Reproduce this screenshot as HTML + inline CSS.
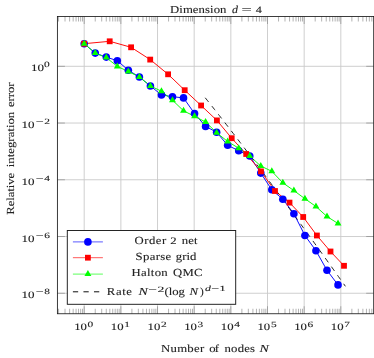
<!DOCTYPE html>
<html><head><meta charset="utf-8"><title>Dimension d = 4</title>
<style>html,body{margin:0;padding:0;background:#fff;width:374px;height:358px;overflow:hidden;font-family:"Liberation Serif",serif}</style>
</head><body>
<svg width="374" height="358" viewBox="0 0 374 358" style="display:block;position:absolute;left:0;top:0;will-change:transform">
<rect x="0" y="0" width="374" height="358" fill="#fff"/>
<path d="M84.20 16.5V313.75M120.86 16.5V313.75M157.52 16.5V313.75M194.18 16.5V313.75M230.84 16.5V313.75M267.50 16.5V313.75M304.16 16.5V313.75M340.82 16.5V313.75M57.4 66.30H373.7M57.4 123.04H373.7M57.4 179.78H373.7M57.4 236.52H373.7M57.4 293.26H373.7" stroke="#c9c9c9" stroke-width="0.9" fill="none"/>
<path d="M58.58 16.5v5M58.58 313.75v-5M65.03 16.5v5M65.03 313.75v-5M69.61 16.5v5M69.61 313.75v-5M73.16 16.5v5M73.16 313.75v-5M76.07 16.5v5M76.07 313.75v-5M78.52 16.5v5M78.52 313.75v-5M80.65 16.5v5M80.65 313.75v-5M82.52 16.5v5M82.52 313.75v-5M95.24 16.5v5M95.24 313.75v-5M101.69 16.5v5M101.69 313.75v-5M106.27 16.5v5M106.27 313.75v-5M109.82 16.5v5M109.82 313.75v-5M112.73 16.5v5M112.73 313.75v-5M115.18 16.5v5M115.18 313.75v-5M117.31 16.5v5M117.31 313.75v-5M119.18 16.5v5M119.18 313.75v-5M131.90 16.5v5M131.90 313.75v-5M138.35 16.5v5M138.35 313.75v-5M142.93 16.5v5M142.93 313.75v-5M146.48 16.5v5M146.48 313.75v-5M149.39 16.5v5M149.39 313.75v-5M151.84 16.5v5M151.84 313.75v-5M153.97 16.5v5M153.97 313.75v-5M155.84 16.5v5M155.84 313.75v-5M168.56 16.5v5M168.56 313.75v-5M175.01 16.5v5M175.01 313.75v-5M179.59 16.5v5M179.59 313.75v-5M183.14 16.5v5M183.14 313.75v-5M186.05 16.5v5M186.05 313.75v-5M188.50 16.5v5M188.50 313.75v-5M190.63 16.5v5M190.63 313.75v-5M192.50 16.5v5M192.50 313.75v-5M205.22 16.5v5M205.22 313.75v-5M211.67 16.5v5M211.67 313.75v-5M216.25 16.5v5M216.25 313.75v-5M219.80 16.5v5M219.80 313.75v-5M222.71 16.5v5M222.71 313.75v-5M225.16 16.5v5M225.16 313.75v-5M227.29 16.5v5M227.29 313.75v-5M229.16 16.5v5M229.16 313.75v-5M241.88 16.5v5M241.88 313.75v-5M248.33 16.5v5M248.33 313.75v-5M252.91 16.5v5M252.91 313.75v-5M256.46 16.5v5M256.46 313.75v-5M259.37 16.5v5M259.37 313.75v-5M261.82 16.5v5M261.82 313.75v-5M263.95 16.5v5M263.95 313.75v-5M265.82 16.5v5M265.82 313.75v-5M278.54 16.5v5M278.54 313.75v-5M284.99 16.5v5M284.99 313.75v-5M289.57 16.5v5M289.57 313.75v-5M293.12 16.5v5M293.12 313.75v-5M296.03 16.5v5M296.03 313.75v-5M298.48 16.5v5M298.48 313.75v-5M300.61 16.5v5M300.61 313.75v-5M302.48 16.5v5M302.48 313.75v-5M315.20 16.5v5M315.20 313.75v-5M321.65 16.5v5M321.65 313.75v-5M326.23 16.5v5M326.23 313.75v-5M329.78 16.5v5M329.78 313.75v-5M332.69 16.5v5M332.69 313.75v-5M335.14 16.5v5M335.14 313.75v-5M337.27 16.5v5M337.27 313.75v-5M339.14 16.5v5M339.14 313.75v-5M351.86 16.5v5M351.86 313.75v-5M358.31 16.5v5M358.31 313.75v-5M362.89 16.5v5M362.89 313.75v-5M366.44 16.5v5M366.44 313.75v-5M369.35 16.5v5M369.35 313.75v-5M371.80 16.5v5M371.80 313.75v-5" stroke="#808080" stroke-width="0.6" fill="none"/>
<path d="M84.20 16.5v7.5M84.20 313.75v-7.5M120.86 16.5v7.5M120.86 313.75v-7.5M157.52 16.5v7.5M157.52 313.75v-7.5M194.18 16.5v7.5M194.18 313.75v-7.5M230.84 16.5v7.5M230.84 313.75v-7.5M267.50 16.5v7.5M267.50 313.75v-7.5M304.16 16.5v7.5M304.16 313.75v-7.5M340.82 16.5v7.5M340.82 313.75v-7.5M57.4 66.30h7.5M373.7 66.30h-7.5M57.4 123.04h7.5M373.7 123.04h-7.5M57.4 179.78h7.5M373.7 179.78h-7.5M57.4 236.52h7.5M373.7 236.52h-7.5M57.4 293.26h7.5M373.7 293.26h-7.5" stroke="#808080" stroke-width="0.6" fill="none"/>
<clipPath id="c"><rect x="57.4" y="16.5" width="316.3" height="297.25"/></clipPath>
<g clip-path="url(#c)">
<polyline points="84.20,43.70 95.24,53.10 106.27,57.10 117.31,60.70 128.34,70.20 139.38,77.00 150.41,86.00 161.45,94.90 172.49,96.70 183.52,97.90 194.56,113.50 205.59,126.40 216.63,132.20 227.66,145.30 238.70,150.70 249.74,156.00 260.77,173.10 271.81,189.80 282.84,199.20 293.88,213.70 304.92,235.50 315.95,250.70 326.99,270.30 338.02,284.90" fill="none" stroke="#0000ff" stroke-width="0.95" stroke-linejoin="round"/>
<polyline points="84.20,43.70 109.70,41.30 131.10,47.30 150.20,59.60 168.10,74.30 184.70,90.20 201.10,105.50 216.90,120.40 231.70,138.20 246.20,154.00 261.00,171.40 275.00,191.00 289.50,202.60 303.20,217.00 316.90,235.50 330.50,251.50 344.00,265.80" fill="none" stroke="#ff0000" stroke-width="0.95" stroke-linejoin="round"/>
<polyline points="84.20,43.70 95.24,53.10 106.27,57.60 117.31,66.40 128.34,71.50 139.38,77.00 150.41,86.00 161.45,91.20 172.49,100.20 183.52,110.80 194.56,116.30 205.59,122.00 216.63,132.70 227.66,141.50 238.70,148.20 249.74,156.00 260.77,166.00 271.81,171.30 282.84,182.80 293.88,190.60 304.92,198.70 315.95,206.50 326.99,216.50 338.02,223.50" fill="none" stroke="#00ff00" stroke-width="0.95" stroke-linejoin="round"/>
<polyline points="205.22,97.78 207.55,100.68 209.89,103.61 212.23,106.54 214.56,109.49 216.90,112.45 219.23,115.42 221.57,118.40 223.91,121.40 226.24,124.40 228.58,127.41 230.92,130.44 233.25,133.47 235.59,136.51 237.93,139.56 240.26,142.62 242.60,145.68 244.94,148.76 247.27,151.84 249.61,154.93 251.94,158.03 254.28,161.14 256.62,164.25 258.95,167.37 261.29,170.49 263.63,173.62 265.96,176.76 268.30,179.90 270.64,183.05 272.97,186.21 275.31,189.37 277.65,192.54 279.98,195.71 282.32,198.89 284.65,202.07 286.99,205.26 289.33,208.45 291.66,211.65 294.00,214.85 296.34,218.06 298.67,221.27 301.01,224.49 303.35,227.71 305.68,230.93 308.02,234.16 310.36,237.39 312.69,240.63 315.03,243.87 317.37,247.11 319.70,250.36 322.04,253.61 324.37,256.87 326.71,260.12 329.05,263.39 331.38,266.65 333.72,269.92 336.06,273.19 338.39,276.47 340.73,279.74 343.07,283.03 345.40,286.31" fill="none" stroke="#000" stroke-width="0.85" stroke-dasharray="5.27 5.27"/>
<g fill="#0000ff"><circle cx="84.20" cy="43.70" r="3.8"/><circle cx="95.24" cy="53.10" r="3.8"/><circle cx="106.27" cy="57.10" r="3.8"/><circle cx="117.31" cy="60.70" r="3.8"/><circle cx="128.34" cy="70.20" r="3.8"/><circle cx="139.38" cy="77.00" r="3.8"/><circle cx="150.41" cy="86.00" r="3.8"/><circle cx="161.45" cy="94.90" r="3.8"/><circle cx="172.49" cy="96.70" r="3.8"/><circle cx="183.52" cy="97.90" r="3.8"/><circle cx="194.56" cy="113.50" r="3.8"/><circle cx="205.59" cy="126.40" r="3.8"/><circle cx="216.63" cy="132.20" r="3.8"/><circle cx="227.66" cy="145.30" r="3.8"/><circle cx="238.70" cy="150.70" r="3.8"/><circle cx="249.74" cy="156.00" r="3.8"/><circle cx="260.77" cy="173.10" r="3.8"/><circle cx="271.81" cy="189.80" r="3.8"/><circle cx="282.84" cy="199.20" r="3.8"/><circle cx="293.88" cy="213.70" r="3.8"/><circle cx="304.92" cy="235.50" r="3.8"/><circle cx="315.95" cy="250.70" r="3.8"/><circle cx="326.99" cy="270.30" r="3.8"/><circle cx="338.02" cy="284.90" r="3.8"/></g>
<g fill="#ff0000"><rect x="81.30" y="40.80" width="5.8" height="5.8"/><rect x="106.80" y="38.40" width="5.8" height="5.8"/><rect x="128.20" y="44.40" width="5.8" height="5.8"/><rect x="147.30" y="56.70" width="5.8" height="5.8"/><rect x="165.20" y="71.40" width="5.8" height="5.8"/><rect x="181.80" y="87.30" width="5.8" height="5.8"/><rect x="198.20" y="102.60" width="5.8" height="5.8"/><rect x="214.00" y="117.50" width="5.8" height="5.8"/><rect x="228.80" y="135.30" width="5.8" height="5.8"/><rect x="243.30" y="151.10" width="5.8" height="5.8"/><rect x="258.10" y="168.50" width="5.8" height="5.8"/><rect x="272.10" y="188.10" width="5.8" height="5.8"/><rect x="286.60" y="199.70" width="5.8" height="5.8"/><rect x="300.30" y="214.10" width="5.8" height="5.8"/><rect x="314.00" y="232.60" width="5.8" height="5.8"/><rect x="327.60" y="248.60" width="5.8" height="5.8"/><rect x="341.10" y="262.90" width="5.8" height="5.8"/></g>
<path fill="#00ff00" d="M84.20 39.70L87.66 45.70L80.74 45.70ZM95.24 49.10L98.70 55.10L91.77 55.10ZM106.27 53.60L109.74 59.60L102.81 59.60ZM117.31 62.40L120.77 68.40L113.84 68.40ZM128.34 67.50L131.81 73.50L124.88 73.50ZM139.38 73.00L142.84 79.00L135.91 79.00ZM150.41 82.00L153.88 88.00L146.95 88.00ZM161.45 87.20L164.91 93.20L157.99 93.20ZM172.49 96.20L175.95 102.20L169.02 102.20ZM183.52 106.80L186.99 112.80L180.06 112.80ZM194.56 112.30L198.02 118.30L191.09 118.30ZM205.59 118.00L209.06 124.00L202.13 124.00ZM216.63 128.70L220.09 134.70L213.17 134.70ZM227.66 137.50L231.13 143.50L224.20 143.50ZM238.70 144.20L242.16 150.20L235.24 150.20ZM249.74 152.00L253.20 158.00L246.27 158.00ZM260.77 162.00L264.24 168.00L257.31 168.00ZM271.81 167.30L275.27 173.30L268.34 173.30ZM282.84 178.80L286.31 184.80L279.38 184.80ZM293.88 186.60L297.34 192.60L290.42 192.60ZM304.92 194.70L308.38 200.70L301.45 200.70ZM315.95 202.50L319.41 208.50L312.49 208.50ZM326.99 212.50L330.45 218.50L323.52 218.50ZM338.02 219.50L341.49 225.50L334.56 225.50Z"/>
</g>
<rect x="57.4" y="16.5" width="316.3" height="297.25" fill="none" stroke="#1a1a1a" stroke-width="0.85"/>
<rect x="67.3" y="230.5" width="168.39999999999998" height="73.80000000000001" fill="#fff" stroke="#1a1a1a" stroke-width="0.95"/>
<path d="M72.9 241.9H102.9" stroke="#0000ff" stroke-width="0.65"/><circle cx="87.9" cy="241.9" r="3.8" fill="#0000ff"/>
<path d="M72.9 257.7H102.9" stroke="#ff0000" stroke-width="0.65"/><rect x="85.0" y="254.79999999999998" width="5.8" height="5.8" fill="#ff0000"/>
<path d="M72.9 274.1H102.9" stroke="#00ff00" stroke-width="0.65"/><path d="M87.90 270.10L91.36 276.10L84.44 276.10Z" fill="#00ff00"/>
<path d="M72.9 291.8H102.9" stroke="#000" stroke-width="0.95" stroke-dasharray="5.27 5.27"/>
<g font-family="'Liberation Serif', serif" font-size="10.8" fill="#222" stroke="#222" stroke-width="0.1" text-rendering="geometricPrecision">
<text transform="translate(170.00,12.70) scale(1.180,1)" font-size="10.8" textLength="47.88" lengthAdjust="spacing">Dimension</text>
<text transform="translate(232.00,12.70) scale(1.112,1)" font-size="10.8" font-style="italic">d</text>
<text transform="translate(241.50,12.70) scale(1.683,1)" font-size="10.8">=</text>
<text transform="translate(255.75,12.70) scale(1.236,1)" font-size="9.9">4</text>
<text transform="translate(161.00,351.60) scale(1.180,1)" font-size="10.8" textLength="36.65" lengthAdjust="spacing">Number</text>
<text transform="translate(209.25,351.60) scale(1.180,1)" font-size="10.8" textLength="8.26" lengthAdjust="spacing">of</text>
<text transform="translate(224.50,351.60) scale(1.180,1)" font-size="10.8" textLength="25.85" lengthAdjust="spacing">nodes</text>
<text transform="translate(259.50,351.60) scale(1.302,1)" font-size="10.8" font-style="italic">N</text>
<text transform="translate(14.30,214.75) rotate(-90) scale(1.180,1)" font-size="10.8" textLength="35.59" lengthAdjust="spacing">Relative</text>
<text transform="translate(14.30,167.25) rotate(-90) scale(1.180,1)" font-size="10.8" textLength="47.03" lengthAdjust="spacing">integration</text>
<text transform="translate(14.30,107.00) rotate(-90) scale(1.180,1)" font-size="10.8" textLength="20.76" lengthAdjust="spacing">error</text>
<text transform="translate(134.50,243.80) scale(1.180,1)" font-size="10.8" textLength="26.91" lengthAdjust="spacing">Order</text>
<text transform="translate(170.25,243.80) scale(1.293,1)" font-size="9.9">2</text>
<text transform="translate(181.75,243.80) scale(1.180,1)" font-size="10.8" textLength="13.35" lengthAdjust="spacing">net</text>
<text transform="translate(135.50,259.80) scale(1.180,1)" font-size="10.8" textLength="30.30" lengthAdjust="spacing">Sparse</text>
<text transform="translate(175.75,259.80) scale(1.180,1)" font-size="10.8" textLength="17.58" lengthAdjust="spacing">grid</text>
<text transform="translate(131.50,275.80) scale(1.180,1)" font-size="10.8" textLength="30.72" lengthAdjust="spacing">Halton</text>
<text transform="translate(173.00,275.80) scale(1.180,1)" font-size="10.8" textLength="25.00" lengthAdjust="spacing">QMC</text>
<text transform="translate(106.75,295.40) scale(1.180,1)" font-size="10.8" textLength="21.40" lengthAdjust="spacing">Rate</text>
<text transform="translate(138.50,295.40) scale(1.302,1)" font-size="10.8" font-style="italic">N</text>
<text transform="translate(148.25,292.20) scale(1.909,1)" font-size="8.0">−</text>
<text transform="translate(157.50,292.20) scale(1.712,1)" font-size="8.0">2</text>
<text transform="translate(164.50,295.40) scale(1.180,1)" font-size="10.8" textLength="17.37" lengthAdjust="spacing">(log</text>
<text transform="translate(189.50,295.40) scale(1.193,1)" font-size="10.8" font-style="italic">N</text>
<text transform="translate(200.00,295.40) scale(1.036,1)" font-size="10.8">)</text>
<text transform="translate(205.00,290.60) scale(1.483,1)" font-size="8.0" font-style="italic">d</text>
<text transform="translate(211.25,290.60) scale(1.745,1)" font-size="8.0">−</text>
<text transform="translate(219.25,290.60) scale(1.620,1)" font-size="8.0">1</text>
<text transform="translate(74.20,330.40) scale(1.290,1)" font-size="9.9">10</text>
<text transform="translate(87.60,326.50) scale(1.420,1)" font-size="8.0">0</text>
<text transform="translate(110.86,330.40) scale(1.290,1)" font-size="9.9">10</text>
<text transform="translate(124.26,326.50) scale(1.420,1)" font-size="8.0">1</text>
<text transform="translate(147.52,330.40) scale(1.290,1)" font-size="9.9">10</text>
<text transform="translate(160.92,326.50) scale(1.420,1)" font-size="8.0">2</text>
<text transform="translate(184.18,330.40) scale(1.290,1)" font-size="9.9">10</text>
<text transform="translate(197.58,326.50) scale(1.420,1)" font-size="8.0">3</text>
<text transform="translate(220.84,330.40) scale(1.290,1)" font-size="9.9">10</text>
<text transform="translate(234.24,326.50) scale(1.420,1)" font-size="8.0">4</text>
<text transform="translate(257.50,330.40) scale(1.290,1)" font-size="9.9">10</text>
<text transform="translate(270.90,326.50) scale(1.420,1)" font-size="8.0">5</text>
<text transform="translate(294.16,330.40) scale(1.290,1)" font-size="9.9">10</text>
<text transform="translate(307.56,326.50) scale(1.420,1)" font-size="8.0">6</text>
<text transform="translate(330.82,330.40) scale(1.290,1)" font-size="9.9">10</text>
<text transform="translate(344.22,326.50) scale(1.420,1)" font-size="8.0">7</text>
<text transform="translate(31.10,71.40) scale(1.320,1)" font-size="9.9">10</text>
<text transform="translate(44.00,67.40) scale(1.420,1)" font-size="8.0">0</text>
<text transform="translate(21.60,128.14) scale(1.320,1)" font-size="9.9">10</text>
<text transform="translate(35.80,124.14) scale(1.750,1)" font-size="8.0">−</text>
<text transform="translate(44.20,124.14) scale(1.420,1)" font-size="8.0">2</text>
<text transform="translate(21.60,184.88) scale(1.320,1)" font-size="9.9">10</text>
<text transform="translate(35.80,180.88) scale(1.750,1)" font-size="8.0">−</text>
<text transform="translate(44.20,180.88) scale(1.420,1)" font-size="8.0">4</text>
<text transform="translate(21.60,241.62) scale(1.320,1)" font-size="9.9">10</text>
<text transform="translate(35.80,237.62) scale(1.750,1)" font-size="8.0">−</text>
<text transform="translate(44.20,237.62) scale(1.420,1)" font-size="8.0">6</text>
<text transform="translate(21.60,298.36) scale(1.320,1)" font-size="9.9">10</text>
<text transform="translate(35.80,294.36) scale(1.750,1)" font-size="8.0">−</text>
<text transform="translate(44.20,294.36) scale(1.420,1)" font-size="8.0">8</text>
</g>
</svg>
</body></html>
